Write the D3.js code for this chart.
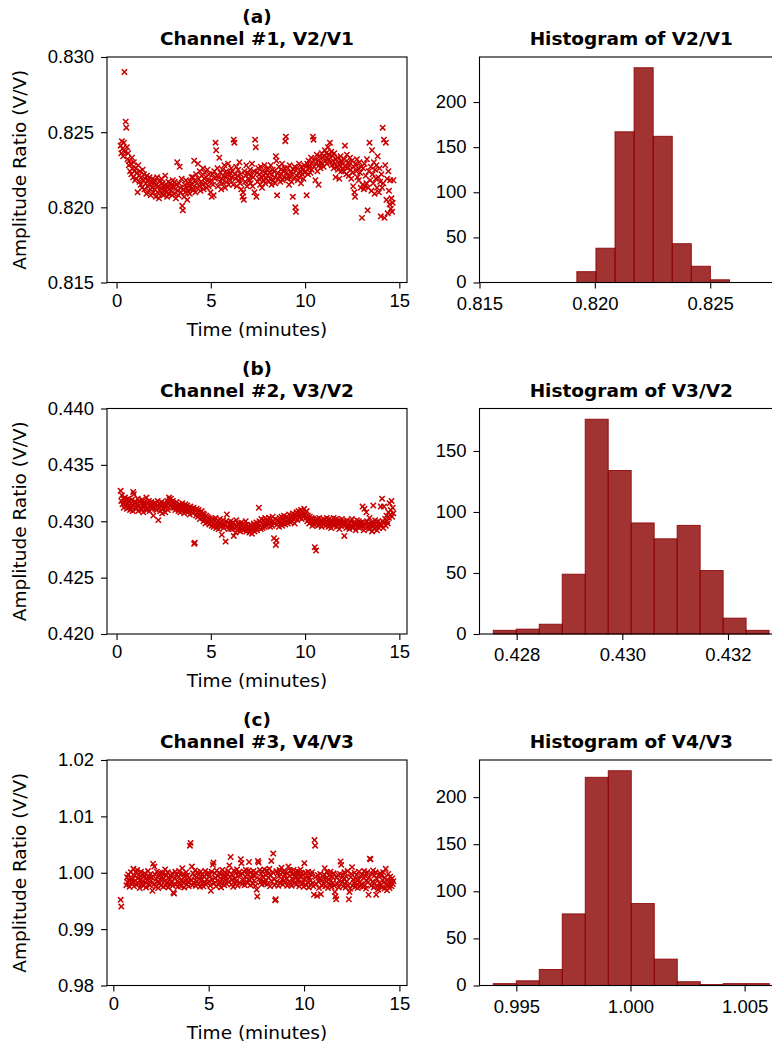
<!DOCTYPE html>
<html>
<head>
<meta charset="utf-8">
<script src="https://cdn.jsdelivr.net/npm/d3@7"></script>
<style>
  body { margin: 0; background: #fff; }
  svg { display: block; font-family: "DejaVu Sans", sans-serif; }
  .tick text { font-size: 18.5px; fill: #000; }
  .tick line { stroke: #000; stroke-width: 1.1; }
  .frame { fill: none; stroke: #000; stroke-width: 1.1; }
  .title { font-size: 18.5px; font-weight: bold; text-anchor: middle; fill: #000; }
  .label { font-size: 18.5px; text-anchor: middle; fill: #000; }
</style>
</head>
<body>
<div id="chart"></div>
<script>
// sample times (seconds), shared by the three channels
const timeSec = [
  13,15,17,19,21,23,25,27,29,31,33,35,37,39,41,43,45,47,49,51,53,55,57,59,
  61,63,65,67,69,71,73,75,77,79,81,83,85,87,89,91,93,95,97,99,101,103,105,107,109,111,113,115,117,119,
  121,123,125,127,129,131,133,135,137,139,141,143,145,147,149,151,153,155,157,159,161,163,165,167,169,171,173,175,177,179,
  181,183,185,187,189,191,193,195,197,199,201,203,205,207,209,211,213,215,217,219,221,223,225,227,229,231,233,235,237,239,
  241,243,245,247,249,251,253,255,257,259,261,263,265,267,269,271,273,275,277,279,281,283,285,287,289,291,293,295,297,299,
  301,303,305,307,309,311,313,315,317,319,321,323,325,327,329,331,333,335,337,339,341,343,345,347,349,351,353,355,357,359,
  361,363,365,367,369,371,373,375,377,379,381,383,385,387,389,391,393,395,397,399,401,403,405,407,409,411,413,415,417,419,
  421,423,425,427,429,431,433,435,437,439,441,443,445,447,449,451,453,455,457,459,461,463,465,467,469,471,473,475,477,479,
  481,483,485,487,489,491,493,495,497,499,501,503,505,507,509,511,513,515,517,519,521,523,525,527,529,531,533,535,537,539,
  541,543,545,547,549,551,553,555,557,559,561,563,565,567,569,571,573,575,577,579,581,583,585,587,589,591,593,595,597,599,
  601,603,605,607,609,611,613,615,617,619,621,623,625,627,629,631,633,635,637,639,641,643,645,647,649,651,653,655,657,659,
  661,663,665,667,669,671,673,675,677,679,681,683,685,687,689,691,693,695,697,699,701,703,705,707,709,711,713,715,717,719,
  721,723,725,727,729,731,733,735,737,739,741,743,745,747,749,751,753,755,757,759,761,763,765,767,769,771,773,775,777,779,
  781,783,785,787,789,791,793,795,797,799,801,803,805,807,809,811,813,815,817,819,821,823,825,827,829,831,833,835,837,839,
  841,843,845,847,849,851,853,855,857,859,861,863,865,867,869,871,873,875,877,879,881
];

// amplitude ratios, in units of 1e-4 V/V (null = no sample)
const ratioV2V1 = [
  8241,8236,8244,8239,8234,8243,8290,8237,8257,8253,8240,8232,8236,8228,8231,8224,8229,8222,8233,8226,8220,8230,8224,8218,
  8226,8219,8223,8210,8228,8221,8217,8224,8215,8220,8213,8225,8218,8222,8212,8219,8216,8209,8221,8214,8218,8211,8220,8215,8208,8217,8213,8219,8210,8216,
  8212,8218,8207,8215,8220,8210,8214,8206,8217,8211,8213,8219,8209,8216,8208,8214,8212,8221,8210,8215,8207,8213,8217,8209,8212,8216,8211,8214,8208,8218,
  8214,8209,8217,8212,8206,8215,8230,8211,8208,8216,8227,8213,8210,8219,8201,8198,8212,8207,8215,8210,8218,8213,8205,8216,8211,8214,8209,8217,8212,8220,
  8215,8220,8212,8231,8218,8210,8222,8216,8213,8229,8219,8214,8224,8211,8217,8221,8215,8226,8212,8219,8223,8216,8220,8213,8225,8218,8214,8222,8217,8210,
  8218,8207,8222,8215,8208,8224,8219,8243,8238,8221,8226,8214,8220,8233,8217,8223,8212,8219,8225,8216,8221,8228,8213,8220,8224,8217,8222,8229,8215,8221,
  8223,8218,8226,8220,8224,8215,8245,8243,8222,8219,8227,8214,8221,8225,8218,8230,8216,8222,8212,8219,8207,8210,8205,8224,8217,8221,8228,8214,8223,8219,
  8222,8218,8225,8216,8221,8229,8214,8220,8224,8210,8245,8240,8207,8223,8217,8226,8219,8222,8215,8227,8220,8213,8224,8218,8221,8228,8216,8223,8219,8225,
  8221,8226,8217,8223,8219,8228,8215,8222,8225,8218,8224,8220,8216,8234,8231,8208,8223,8219,8227,8221,8217,8225,8222,8229,8218,8224,8220,8226,8244,8247,
  8223,8219,8226,8221,8215,8228,8220,8224,8217,8222,8207,8225,8219,8227,8200,8197,8221,8226,8218,8223,8229,8220,8224,8216,8227,8222,8225,8219,8228,8223,
  8224,8227,8208,8229,8222,8231,8226,8228,8223,8233,8225,8230,8247,8245,8227,8232,8218,8229,8235,8224,8231,8215,8228,8234,8226,8230,8236,8229,8233,8227,
  8234,8238,8231,8236,8229,8233,8240,8232,8235,8243,8230,8237,8228,8234,8231,8226,8236,8229,8220,8232,8227,8233,8225,8230,8219,8228,8234,8224,8231,8226,
  8229,8224,8232,8241,8227,8222,8235,8226,8230,8221,8228,8233,8225,8219,8231,8223,8214,8227,8210,8207,8229,8224,8232,8220,8226,8218,8230,8223,8213,8227,
  8193,8215,8226,8212,8229,8214,8221,8216,8232,8198,8213,8224,8243,8218,8227,8211,8238,8222,8216,8230,8209,8225,8219,8228,8213,8234,8220,8210,8226,8217,
  8194,8222,8213,8253,8216,8245,8193,8228,8243,8205,8219,8196,8224,8211,8202,8218,8199,8206,8197,8203,8218
];

const ratioV3V2 = [
  4327,4318,4323,4315,4320,4312,4317,4321,4314,4319,4311,4316,4320,4313,4318,4310,4316,4313,4319,4309,4326,4324,4315,4312,
  4317,4311,4315,4320,4309,4314,4318,4312,4316,4310,4319,4313,4308,4315,4317,4311,4314,4321,4310,4316,4312,4318,4309,4315,4313,4317,4311,4314,4305,4316,
  4315,4311,4316,4310,4314,4318,4301,4312,4315,4309,4313,4317,4307,4314,4311,4316,4312,4308,4315,4313,4318,4310,4316,4321,4319,4314,4320,4317,4312,4318,
  4316,4312,4315,4310,4314,4317,4311,4313,4309,4315,4312,4308,4314,4311,4316,4310,4313,4307,4312,4315,4309,4311,4314,4308,4312,4310,4306,4313,4309,4311,
  4310,4307,4312,4280,4281,4309,4305,4311,4308,4304,4310,4306,4302,4308,4305,4309,4303,4307,4300,4306,4302,4298,4305,4301,4304,4299,4303,4297,4302,4300,
  4300,4296,4302,4298,4295,4301,4297,4303,4294,4299,4296,4300,4293,4298,4302,4295,4299,4288,4297,4301,4294,4298,4296,4282,4300,4306,4295,4299,4293,4297,
  4296,4300,4293,4298,4295,4299,4287,4294,4297,4290,4301,4295,4292,4298,4294,4297,4291,4296,4299,4293,4295,4298,4292,4296,4294,4300,4291,4297,4293,4295,
  4294,4290,4297,4292,4296,4289,4295,4293,4298,4291,4296,4294,4299,4292,4297,4295,4312,4300,4296,4293,4302,4298,4294,4301,4297,4295,4303,4299,4296,4300,
  4301,4297,4303,4298,4295,4302,4299,4296,4304,4300,4285,4298,4302,4279,4283,4297,4301,4299,4295,4303,4300,4298,4304,4296,4302,4299,4305,4301,4297,4303,
  4300,4304,4298,4302,4306,4301,4299,4305,4303,4300,4307,4302,4304,4298,4306,4303,4308,4301,4305,4309,4303,4307,4304,4310,4302,4306,4308,4304,4311,4305,
  4307,4303,4309,4300,4305,4302,4298,4304,4301,4299,4303,4296,4302,4300,4297,4277,4301,4274,4298,4302,4296,4300,4303,4297,4299,4301,4295,4300,4298,4302,
  4298,4301,4296,4300,4303,4297,4299,4295,4302,4298,4300,4294,4301,4297,4299,4303,4296,4300,4298,4302,4295,4299,4297,4301,4293,4298,4300,4296,4302,4299,
  4297,4300,4287,4296,4299,4294,4301,4297,4295,4299,4293,4298,4300,4296,4302,4294,4298,4295,4299,4297,4292,4298,4301,4295,4297,4300,4294,4298,4296,4299,
  4296,4313,4299,4292,4311,4297,4294,4308,4300,4295,4298,4293,4303,4297,4294,4299,4291,4296,4314,4298,4293,4301,4295,4299,4292,4297,4300,4294,4298,4296,
  4313,4297,4320,4300,4294,4313,4299,4302,4296,4305,4300,4298,4308,4303,4316,4306,4310,4318,4304,4312,4307
];

const ratioV4V3 = [
  null,null,null,null,null,9952,9940,null,null,null,null,null,null,null,9978,9992,9983,9997,9986,9975,9991,10001,9982,9988,
  9984,10007,9976,9995,9986,10001,9979,10005,9990,9981,9997,9973,9988,10002,9980,9996,9985,9977,9993,9999,9983,9974,9991,9987,10003,9980,9994,9978,9998,9986,
  9992,9968,10016,9979,10011,9997,9976,9989,10002,9984,9973,9995,9981,10000,9987,9978,9993,9999,9975,9990,9985,10006,9977,9996,9982,10001,9974,9991,9988,9980,
  9994,9983,9999,9977,9965,9963,9990,10002,9979,9996,9985,9975,9992,10003,9981,9997,9976,9988,10008,9983,9998,9974,9993,9986,10001,9979,9995,9984,9976,9991,
  10048,10053,9986,10011,9978,9999,9983,9994,10004,9977,9992,9985,10001,9980,9996,9989,9975,10002,9987,9981,9998,9976,9993,9984,10003,9979,9997,9988,9982,10000,
  9985,9996,9977,9968,10002,9988,10014,10018,9981,9999,9991,9976,10004,9986,9994,9979,10000,9983,9997,9974,9989,10005,9982,9995,9978,10001,9987,9993,9980,9998,
  10003,9984,10013,9992,10028,9979,9997,9988,9975,10004,9990,9981,9999,9985,10006,9977,9994,10001,9983,9996,10024,10017,9980,9998,9986,10002,9978,9993,10005,9984,
  9997,9982,10004,10019,9988,9978,10001,9991,9996,9980,10003,9986,9994,9977,10000,9970,9958,10021,10018,9989,10005,9983,9998,9979,10002,9992,9985,10006,9981,9996,
  9987,10004,9980,9998,9991,10007,9976,9995,10021,9984,10001,10034,9989,9978,9951,9953,10003,9985,9999,9977,9994,10005,9982,9997,10009,9988,9979,10002,9986,9996,
  9983,10002,9990,9977,9999,10011,9985,9994,10004,9980,9977,9997,9988,10005,9982,9995,10001,9979,9992,10003,9986,9998,9976,9993,10006,9984,9999,9981,9996,9975,
  10017,9988,10000,9978,9995,9983,10002,9974,9991,9986,9979,9997,10001,9982,9976,9961,10058,10048,9993,9980,9959,9996,9985,9973,9990,9998,9962,9987,9977,9994,
  9981,9997,10008,9976,9990,9984,10001,9973,9988,9995,9979,10002,9986,9975,9993,9982,9999,9977,9966,9958,9953,9991,9980,9996,9974,9987,9998,10020,10014,9983,
  9995,9976,9989,10001,9980,9974,9993,9985,10003,9978,9953,9966,9972,9992,9998,10010,9977,9988,9982,10000,9975,9990,9996,9979,9973,9987,10002,9983,9976,9994,
  9980,9997,9975,9990,10003,9978,9994,9972,9986,10001,9983,9961,9992,10025,10024,9977,9998,9984,10004,9974,9995,9981,10001,9961,9989,9976,9970,9996,9982,9999,
  9978,9995,9974,9987,10001,9983,9972,9991,10007,9979,9969,9986,9998,9977,9973,9993,9984,9976,9990,9980,9985
];

// histogram counts (12 equal bins each)
const histCountsV2V1 = [12, 38, 167, 238, 162, 43, 18, 3, 0, 0, 0, 1];
const histCountsV3V2 = [3, 4, 8, 49, 176, 134, 91, 78, 89, 52, 13, 3];
const histCountsV4V3 = [2, 5, 17, 76, 221, 228, 87, 28, 4, 1, 2, 2];
const histBinStart = [0.81922, 0.427558, 0.99399];
const histBinWidth = [0.000827, 0.000435, 0.0010075];

const panelTags = ['(a)', '(b)', '(c)'];
const channelTitles = ['Channel #1, V2/V1', 'Channel #2, V3/V2', 'Channel #3, V4/V3'];
const histTitles = ['Histogram of V2/V1', 'Histogram of V3/V2', 'Histogram of V4/V3'];

const timeTicks = [0, 5, 10, 15];
const ratioLimits = [[0.815, 0.830], [0.420, 0.440], [0.98, 1.02]];
const ratioTicks = [
  [0.815, 0.820, 0.825, 0.830],
  [0.420, 0.425, 0.430, 0.435, 0.440],
  [0.98, 0.99, 1.00, 1.01, 1.02]
];
const ratioFormats = ['.3f', '.3f', '.2f'];
const histLimits = [[0.815, 0.82816], [0.427297, 0.433043], [0.993386, 1.006686]];
const histTicks = [[0.815, 0.820, 0.825], [0.428, 0.430, 0.432], [0.995, 1.000, 1.005]];
const countTicks = [[0, 50, 100, 150, 200], [0, 50, 100, 150], [0, 50, 100, 150, 200]];

// layout
const W = 772, H = 1045;
const rowTop = [57, 408.5, 760];
const plotH = 225.5;
const scatterBox = { left: 107, width: 300 };
const histBox = { left: 479.5, width: 303.6 };

const svg = d3.select('#chart').append('svg')
    .attr('width', W)
    .attr('height', H);

const series = [ratioV2V1, ratioV3V2, ratioV4V3];
const histCounts = [histCountsV2V1, histCountsV3V2, histCountsV4V3];

series.forEach((vals, r) => {
  const top = rowTop[r];

  // ---- scatter of ratio vs time
  const pts = [];
  timeSec.forEach((s, i) => {
    if (vals[i] != null) pts.push({ t: s / 60, v: vals[i] / 1e4 });
  });
  const ext = d3.extent(pts, d => d.t);
  const pad = (ext[1] - ext[0]) * 0.05;

  const x = d3.scaleLinear()
      .domain([ext[0] - pad, ext[1] + pad])
      .range([0, scatterBox.width]);
  const y = d3.scaleLinear()
      .domain(ratioLimits[r])
      .range([plotH, 0]);

  const g = svg.append('g')
      .attr('transform', 'translate(' + scatterBox.left + ',' + top + ')');

  // 'x' markers
  const s = 2.7;
  g.append('g').selectAll('path')
      .data(pts)
    .enter().append('path')
      .attr('d', 'M' + (-s) + ',' + (-s) + 'L' + s + ',' + s + 'M' + (-s) + ',' + s + 'L' + s + ',' + (-s))
      .attr('transform', d => 'translate(' + x(d.t) + ',' + y(d.v) + ')')
      .attr('stroke', '#c80000')
      .attr('stroke-width', 1.5)
      .attr('fill', 'none');

  g.append('g')
      .attr('transform', 'translate(0,' + plotH + ')')
      .call(d3.axisBottom(x).tickValues(timeTicks).tickSize(6).tickPadding(5).tickFormat(d3.format('d')))
      .call(a => a.select('.domain').remove());

  g.append('g')
      .call(d3.axisLeft(y).tickValues(ratioTicks[r]).tickSize(6).tickPadding(7).tickFormat(d3.format(ratioFormats[r])))
      .call(a => a.select('.domain').remove());

  g.append('rect')
      .attr('class', 'frame')
      .attr('width', scatterBox.width)
      .attr('height', plotH);

  g.append('text')
      .attr('class', 'label')
      .attr('x', scatterBox.width / 2)
      .attr('y', plotH + 53)
      .text('Time (minutes)');

  svg.append('text')
      .attr('class', 'label')
      .attr('transform', 'translate(26,' + (top + plotH / 2) + ') rotate(-90)')
      .text('Amplitude Ratio (V/V)');

  svg.append('text')
      .attr('class', 'title')
      .attr('x', scatterBox.left + scatterBox.width / 2)
      .attr('y', top - 34)
      .text(panelTags[r]);

  svg.append('text')
      .attr('class', 'title')
      .attr('x', scatterBox.left + scatterBox.width / 2)
      .attr('y', top - 12)
      .text(channelTitles[r]);

  // ---- histogram
  const counts = histCounts[r];
  const bins = counts.map((n, i) => ({
    x0: histBinStart[r] + i * histBinWidth[r],
    x1: histBinStart[r] + (i + 1) * histBinWidth[r],
    n: n
  }));

  const hx = d3.scaleLinear()
      .domain(histLimits[r])
      .range([0, histBox.width]);
  const hy = d3.scaleLinear()
      .domain([0, d3.max(counts) * 1.05])
      .range([plotH, 0]);

  const hg = svg.append('g')
      .attr('transform', 'translate(' + histBox.left + ',' + top + ')');

  hg.append('g').selectAll('rect')
      .data(bins)
    .enter().append('rect')
      .attr('x', d => hx(d.x0))
      .attr('width', d => hx(d.x1) - hx(d.x0))
      .attr('y', d => hy(d.n))
      .attr('height', d => hy(0) - hy(d.n))
      .attr('fill', '#8b0000')
      .attr('fill-opacity', 0.8)
      .attr('stroke', '#8b0000')
      .attr('stroke-opacity', 0.85)
      .attr('stroke-width', 1);

  hg.append('g')
      .attr('transform', 'translate(0,' + plotH + ')')
      .call(d3.axisBottom(hx).tickValues(histTicks[r]).tickSize(6).tickPadding(8).tickFormat(d3.format('.3f')))
      .call(a => a.select('.domain').remove());

  // count labels sit a touch higher so the "0" clears the first x label
  hg.append('g')
      .call(d3.axisLeft(hy).tickValues(countTicks[r]).tickSize(6).tickPadding(7).tickFormat(d3.format('d')))
      .call(a => a.select('.domain').remove())
      .call(a => a.selectAll('.tick text').attr('dy', '0.28em'));

  hg.append('rect')
      .attr('class', 'frame')
      .attr('width', histBox.width)
      .attr('height', plotH);

  svg.append('text')
      .attr('class', 'title')
      .attr('x', histBox.left + histBox.width / 2)
      .attr('y', top - 12)
      .text(histTitles[r]);
});
</script>
</body>
</html>
